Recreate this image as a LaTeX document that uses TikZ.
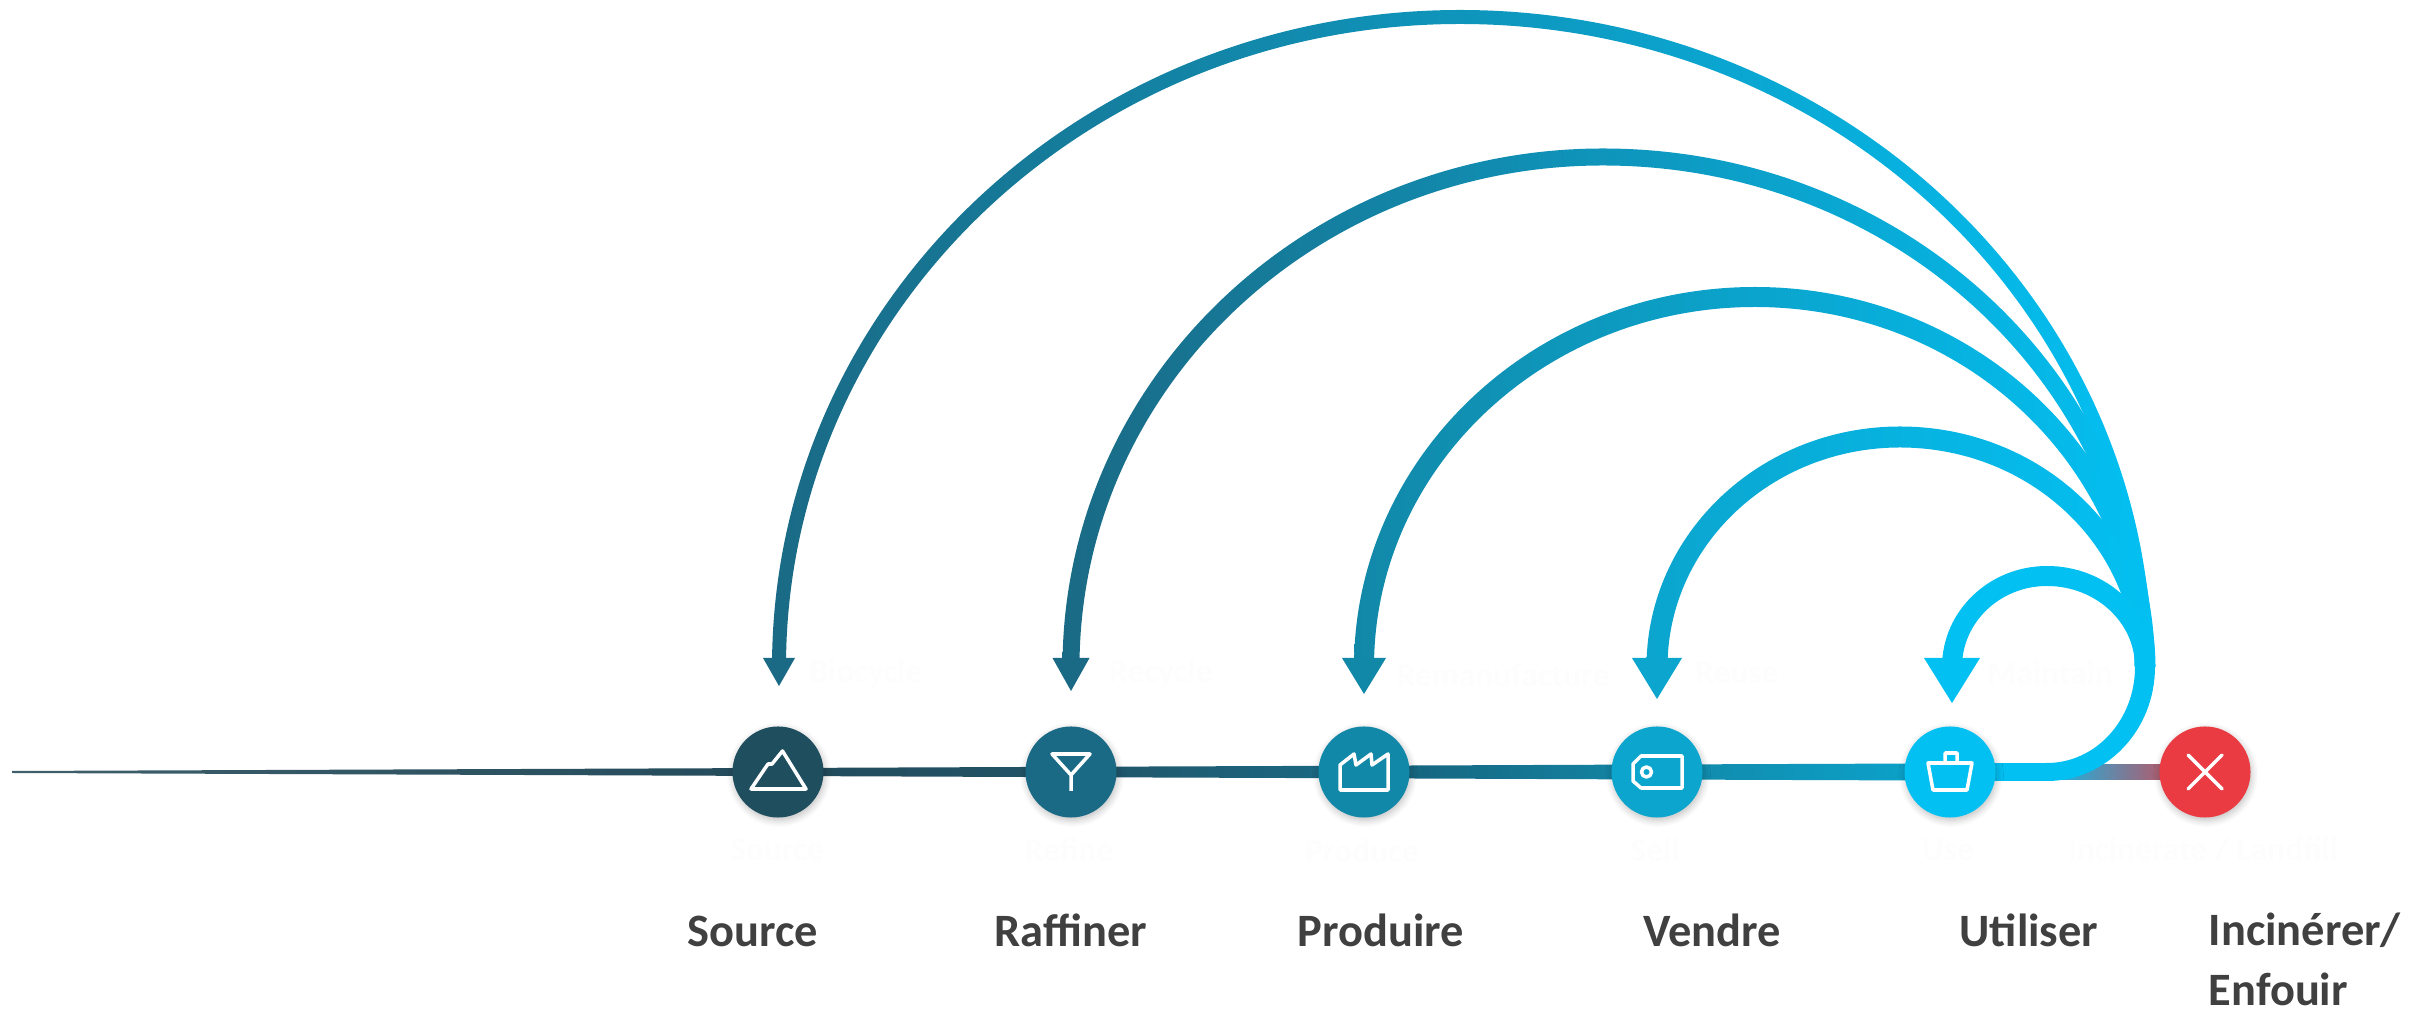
\documentclass[tikz,border=0pt]{standalone}
\usepackage{fontspec}
\setmainfont{Carlito}
\usetikzlibrary{backgrounds, calc, shadows.blur}
\definecolor{stageA}{HTML}{1F4E5F}
\definecolor{stageB}{HTML}{1A6A85}
\definecolor{stageC}{HTML}{1288A8}
\definecolor{stageD}{HTML}{0BA5CE}
\definecolor{stageE}{HTML}{03C0F2}
\definecolor{stageX}{HTML}{EA3A42}
\definecolor{lineA}{HTML}{3F5F6B}
\definecolor{lineB}{HTML}{234B5B}
\definecolor{labelgray}{HTML}{404040}
\definecolor{ghost}{HTML}{FDFDFD}
\tikzset{
    stage/.style={circle, inner sep=0pt, minimum size=0.91cm, blur shadow={shadow xshift=0.3pt, shadow yshift=-0.8pt, shadow opacity=25, shadow blur steps=6}},
    icon/.style={draw=white, line width=1pt, line join=round},
    caption/.style={font=\fontsize{13.2}{17}\selectfont\bfseries, text=labelgray, anchor=base},
    faded/.style={font=\fontsize{9.5}{11}\selectfont\bfseries, text=ghost}
}
% left end x, crown x, crown y, stroke width, colour, head half width, tip y
\newcommand{\loopback}[7]{
    \pgfmathsetmacro{\rl}{#2-#1}
    \pgfmathsetmacro{\rr}{2145-#2}
    \pgfmathsetmacro{\rh}{#3-345}
    \pgfmathsetmacro{\hw}{#4/2}
    \shade[left color=#5, right color=stageE]
        (#1-\hw, 345) arc[start angle=180, end angle=90, x radius=\rl+\hw, y radius=\rh+\hw]
        arc[start angle=90, end angle=0, x radius=\rr+\hw, y radius=\rh+\hw]
        -- ++(-#4, 0) arc[start angle=0, end angle=90, x radius=\rr-\hw, y radius=\rh-\hw]
        arc[start angle=90, end angle=180, x radius=\rl-\hw, y radius=\rh-\hw] -- cycle;
    \fill[#5] (#1-#6, 354) -- (#1+#6, 354) -- (#1, #7) -- cycle;
}
\begin{document}
\begin{tikzpicture}[x=0.01cm, y=0.01cm]
    \useasboundingbox (0, 0) rectangle (2420, 1012);
    \coordinate (start) at (12, 240);
    \coordinate (blend) at (2040, 240);
    \coordinate (bend) at (2047, 240);
    \node[stage, fill=stageA] (source) at (778, 240) {};
    \node[stage, fill=stageB] (raffiner) at (1071, 240) {};
    \node[stage, fill=stageC] (produire) at (1364, 240) {};
    \node[stage, fill=stageD] (vendre) at (1657, 240) {};
    \node[stage, fill=stageE] (utiliser) at (1950, 240) {};
    \node[stage, fill=stageX] (enfouir) at (2205, 240) {};
    % line under the stages
    \begin{scope}[on background layer]
        \shade[left color=stageE, right color=stageX] ($(blend)+(0, 7.5)$) -- ($(enfouir.center)+(0, 7.5)$) -- ($(enfouir.center)+(0, -7.5)$) -- ($(blend)+(0, -7.5)$) -- cycle;
        \foreach \a/\b/\wa/\wb/\ca/\cb in {start/source/1/4/lineA/lineB, source/raffiner/4/5.2/lineB/lineB!70!stageB, raffiner/produire/5.2/6.3/lineB!70!stageB/stageB, produire/vendre/6.3/7.5/stageB!90!black/stageC, vendre/utiliser/7.5/8.6/stageC/stageD, utiliser/bend/8.6/9/stageE/stageE}
            \shade[left color=\ca, right color=\cb] ($(\a.center)+(0, \wa)$) -- ($(\b.center)+(0, \wb)$) -- ($(\b.center)+(0, -\wb)$) -- ($(\a.center)+(0, -\wa)$) -- cycle;
    \end{scope}
    % arcs back from the use stage
    \loopback{779}{1460}{995}{14}{stageB}{16}{326}
    \loopback{1071}{1603}{855}{17}{stageB}{18.5}{321}
    \loopback{1364}{1755}{715}{20}{stageC}{22}{318}
    \loopback{1657}{1900}{575}{21}{stageD}{25}{313}
    \loopback{1952}{2047}{436}{20}{stageE}{28}{309}
    \fill[stageE] ($(bend)+(0, 9)$) arc[start angle=270, end angle=360, x radius=88, y radius=96] -- (2155, 345) arc[start angle=0, end angle=-90, x radius=108, y radius=114] -- cycle;
    % icons
    \draw[icon, shift={(source.center)}] (-27, -17) -- (-10, 8) -- (-6, 8) -- (4.5, 21) -- (28, -17) -- cycle;
    \draw[icon, shift={(raffiner.center)}] (-19, 18) -- (19, 18) -- (0, -3) -- cycle (0, -3) -- (0, -19);
    \draw[icon, shift={(produire.center)}] (-24, -18) -- (-24, 7) -- (-10, 18) -- (-8, 7) -- (7, 18) -- (8, 7) -- (24, 18) -- (24, -18) -- cycle;
    \draw[icon, shift={(vendre.center)}] (25, 16) -- (-16, 16) -- (-24, 8) -- (-24, -9) -- (-16, -16) -- (25, -16) -- cycle (-10.5, 0) circle (5);
    \draw[icon, shift={(utiliser.center)}] (-22, 9) -- (22, 9) -- (17, -18) -- (-17, -18) -- cycle (-5, 9) -- (-5, 19) -- (7, 19) -- (7, 9);
    \draw[icon, line cap=round, shift={(enfouir.center)}] (-17, 17) -- (17, -17) (-17, -17) -- (17, 17);
    % captions
    \node[caption] (lsource) at (753, 65) {Source};
    \node[caption] (lraffiner) at (1071, 65) {Raffiner};
    \node[caption] (lproduire) at (1381, 65) {Produire};
    \node[caption] (lvendre) at (1712, 65) {Vendre};
    \node[caption] (lutiliser) at (2029, 65) {Utiliser};
    \node[caption, anchor=north west, align=left, inner sep=0pt] (lenfouir) at (2208, 100) {Incinérer/\\Enfouir};
    % almost erased words
    \node[faded] (g1) at (866, 339) {Biocycle};
    \node[faded] (g2) at (1161, 339) {Recycle};
    \node[faded] (g3) at (1503, 337) {Remanufacture};
    \node[faded] (g4) at (1737, 339) {Reuse};
    \node[faded] (g5) at (2050, 339) {Maintain};
    \node[faded] (g6) at (777, 162) {Source};
    \node[faded] (g7) at (1069, 162) {Refine};
    \node[faded] (g8) at (1362, 161) {Produce};
    \node[faded] (g9) at (1655, 162) {Sell};
    \node[faded] (g10) at (1948, 162) {Use};
    \node[faded] (g11) at (2203, 162) {Incinerate / Landfill};
\end{tikzpicture}
\end{document}
